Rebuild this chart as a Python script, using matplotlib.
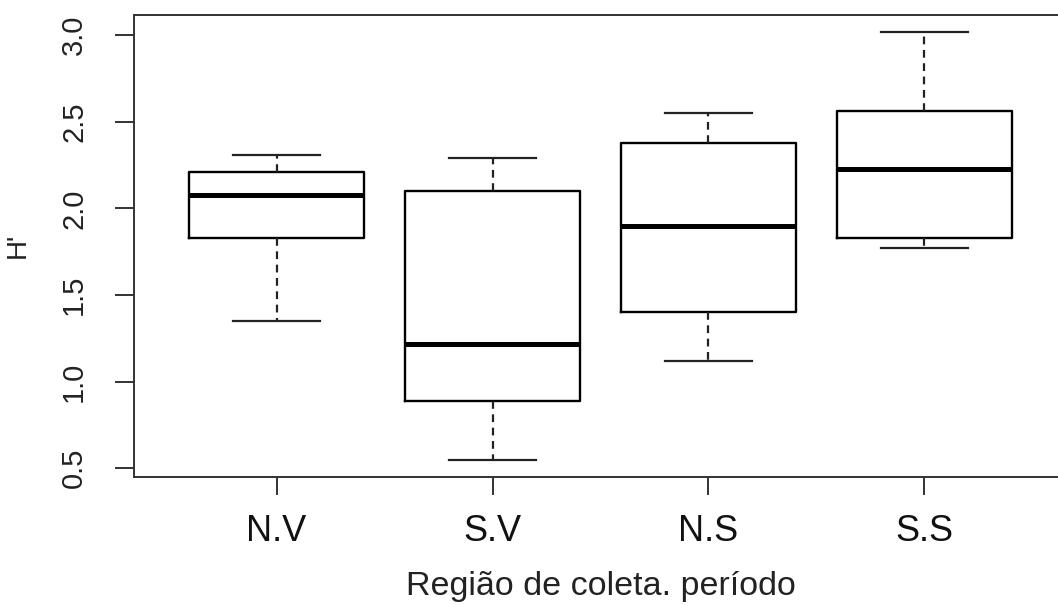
import numpy as np
import matplotlib.pyplot as plt

plt.rcParams['font.family'] = ['Liberation Sans', 'DejaVu Sans']

# boxplot summaries of H' per group
groups = ['N.V', 'S.V', 'N.S', 'S.S']
whis_lo = [1.35, 0.55, 1.12, 1.77]
q1 = [1.83, 0.89, 1.40, 1.83]
median = [2.08, 1.22, 1.90, 2.23]
q3 = [2.21, 2.10, 2.38, 2.56]
whis_hi = [2.31, 2.29, 2.55, 3.02]

stats = []
for i, g in enumerate(groups):
    stats.append(dict(label=g, whislo=whis_lo[i], q1=q1[i], med=median[i],
                      q3=q3[i], whishi=whis_hi[i], fliers=[]))

fig = plt.figure(figsize=(10.58, 6.05), dpi=100)
ax = fig.add_axes([134/1058, 1-476.7/605, (1067-134)/1058, (476.7-14.7)/605])

pos = np.arange(1, len(groups)+1)
ax.bxp(stats, positions=pos, widths=0.81, capwidths=0.405, showfliers=False,
       boxprops=dict(color='black', linewidth=1.7),
       medianprops=dict(color='black', linewidth=3.6, solid_capstyle='butt'),
       whiskerprops=dict(color='#222222', linewidth=1.6, linestyle=(0, (3.5, 2.5))),
       capprops=dict(color='#222222', linewidth=1.6))

# R style 4% padding on both axes
lo, hi = min(whis_lo), max(whis_hi)
pad = (hi - lo) * 0.04
ax.set_ylim(lo - pad, hi + pad)
ax.set_xlim(0.5 - 0.16, len(groups) + 0.5 + 0.16)

for s in ax.spines.values():
    s.set_color('#333333')
    s.set_linewidth(1.4)

ax.set_yticks([0.5, 1.0, 1.5, 2.0, 2.5, 3.0])
ax.set_yticklabels(['0.5', '1.0', '1.5', '2.0', '2.5', '3.0'], rotation=90, va='center')
ax.tick_params(axis='y', length=14, width=1.4, color='#333333', pad=19,
               labelsize=21, labelcolor='#222222')
ax.set_xticks(pos)
ax.set_xticklabels(groups)
ax.tick_params(axis='x', length=13, width=1.4, color='#333333', pad=14,
               labelsize=26, labelcolor='#111111')

ax.set_xlabel('Região de coleta. período', fontsize=24.5, color='#222222', labelpad=16)
ax.set_ylabel("H'", fontsize=20, color='#222222', labelpad=21)

fig.savefig('out.png', dpi=100)
